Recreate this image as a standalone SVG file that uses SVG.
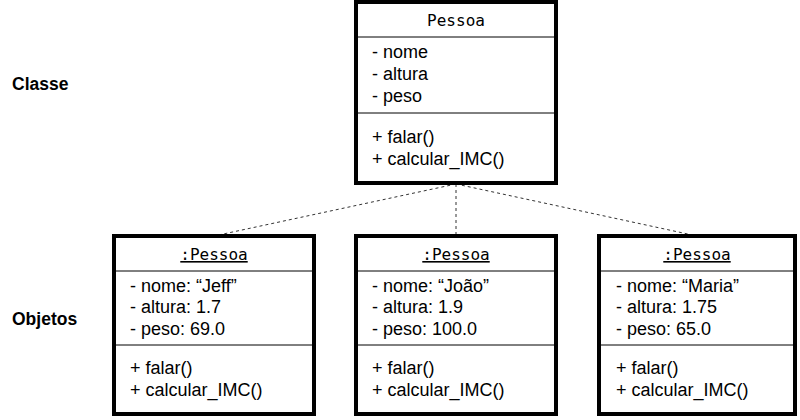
<svg xmlns="http://www.w3.org/2000/svg" width="800" height="420" viewBox="0 0 800 420">
  <style>
    .box { fill: #fff; stroke: #000; stroke-width: 4; }
    .sep { stroke: #000; stroke-width: 1; }
    .hdr { font-family: "DejaVu Sans Mono", "Liberation Mono", monospace; font-size: 16px; fill: #000; text-anchor: middle; }
    .obj { text-decoration: underline; }
    .txt { font-family: "Liberation Sans", Arial, sans-serif; font-size: 18px; fill: #000; }
    .lbl { font-family: "Liberation Sans", Arial, sans-serif; font-size: 17.5px; font-weight: bold; fill: #000; }
    .link { stroke: #333; stroke-width: 1; stroke-dasharray: 3 3; fill: none; }
  </style>
  <rect width="800" height="420" fill="#fff"/>

  <!-- row labels -->
  <text class="lbl" x="12" y="90">Classe</text>
  <text class="lbl" x="12" y="325">Objetos</text>

  <!-- instance-of links from the class to its objects -->
  <g id="connectors">
    <line class="link" x1="456" y1="184" x2="214" y2="236"/>
    <line class="link" x1="456" y1="184" x2="456" y2="236"/>
    <line class="link" x1="456" y1="184" x2="697" y2="236"/>
  </g>

  <!-- class Pessoa -->
  <g id="class-pessoa">
    <rect class="box" x="356" y="2" width="200" height="181"/>
    <line class="sep" x1="358" y1="37" x2="554" y2="37"/>
    <line class="sep" x1="358" y1="113" x2="554" y2="113"/>
    <text class="hdr" x="456" y="26">Pessoa</text>
    <text class="txt" x="372" y="58">- nome</text>
    <text class="txt" x="372" y="80">- altura</text>
    <text class="txt" x="372" y="102">- peso</text>
    <text class="txt" x="372" y="143">+ falar()</text>
    <text class="txt" x="372" y="165">+ calcular_IMC()</text>
  </g>

  <!-- object Jeff -->
  <g id="obj-jeff">
    <rect class="box" x="114" y="236" width="200" height="178"/>
    <line class="sep" x1="116" y1="271" x2="312" y2="271"/>
    <line class="sep" x1="116" y1="345" x2="312" y2="345"/>
    <text class="hdr obj" x="214" y="260">:Pessoa</text>
    <text class="txt" x="130" y="292">- nome: “Jeff”</text>
    <text class="txt" x="130" y="313">- altura: 1.7</text>
    <text class="txt" x="130" y="335">- peso: 69.0</text>
    <text class="txt" x="130" y="374">+ falar()</text>
    <text class="txt" x="130" y="396">+ calcular_IMC()</text>
  </g>

  <!-- object João -->
  <g id="obj-joao">
    <rect class="box" x="356" y="236" width="200" height="178"/>
    <line class="sep" x1="358" y1="271" x2="554" y2="271"/>
    <line class="sep" x1="358" y1="345" x2="554" y2="345"/>
    <text class="hdr obj" x="456" y="260">:Pessoa</text>
    <text class="txt" x="372" y="292">- nome: “João”</text>
    <text class="txt" x="372" y="313">- altura: 1.9</text>
    <text class="txt" x="372" y="335">- peso: 100.0</text>
    <text class="txt" x="372" y="374">+ falar()</text>
    <text class="txt" x="372" y="396">+ calcular_IMC()</text>
  </g>

  <!-- object Maria -->
  <g id="obj-maria">
    <rect class="box" x="599" y="236" width="196" height="178"/>
    <line class="sep" x1="601" y1="271" x2="793" y2="271"/>
    <line class="sep" x1="601" y1="345" x2="793" y2="345"/>
    <text class="hdr obj" x="697" y="260">:Pessoa</text>
    <text class="txt" x="616" y="292">- nome: “Maria”</text>
    <text class="txt" x="616" y="313">- altura: 1.75</text>
    <text class="txt" x="616" y="335">- peso: 65.0</text>
    <text class="txt" x="616" y="374">+ falar()</text>
    <text class="txt" x="616" y="396">+ calcular_IMC()</text>
  </g>
</svg>
